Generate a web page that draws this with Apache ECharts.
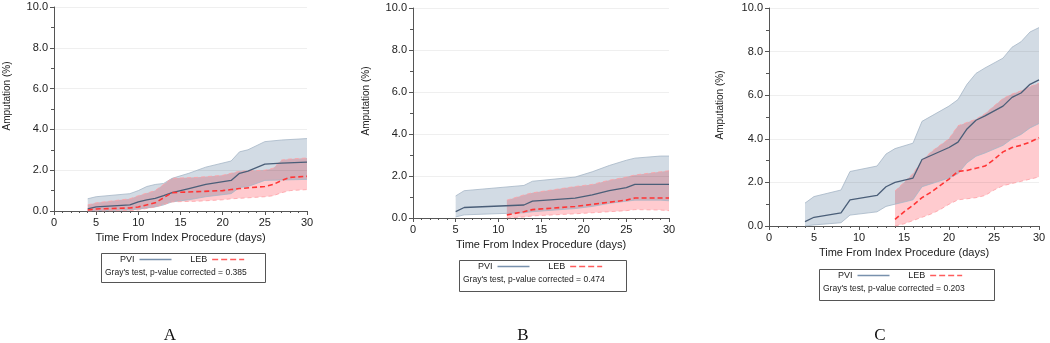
<!DOCTYPE html>
<html>
<head>
<meta charset="utf-8">
<script src="https://cdn.jsdelivr.net/npm/echarts@6/dist/echarts.min.js"></script>
<style>
  html, body { margin: 0; padding: 0; background: #fff; }
  #chart { width: 1050px; height: 343px; }
</style>
</head>
<body>
<div id="chart"></div>
<script>
// Panel A
const daysA_PVI = [4, 5, 9, 10, 11, 12, 13, 14, 16, 18, 21, 22, 23, 25, 27, 30]
const estA_PVI = [0.1, 0.2, 0.3, 0.45, 0.55, 0.62, 0.75, 0.9, 1.1, 1.3, 1.5, 1.85, 1.95, 2.3, 2.35, 2.4]
const hiA_PVI = [0.6, 0.7, 0.85, 1.0, 1.2, 1.3, 1.35, 1.6, 1.85, 2.15, 2.45, 2.9, 3.0, 3.4, 3.48, 3.55]
const loA_PVI = [0, 0.02, 0.05, 0.1, 0.15, 0.2, 0.3, 0.45, 0.55, 0.7, 0.85, 1.15, 1.2, 1.5, 1.52, 1.55]
const daysA_LEB = [4, 5, 9, 10, 12, 14, 17, 20, 21, 22, 25, 26, 27, 28, 30]
const estA_LEB = [0.05, 0.1, 0.15, 0.2, 0.4, 0.9, 0.95, 1.0, 1.05, 1.1, 1.2, 1.3, 1.5, 1.65, 1.7]
const hiA_LEB = [0.3, 0.4, 0.6, 0.75, 1.0, 1.6, 1.65, 1.75, 1.85, 1.95, 2.0, 2.1, 2.5, 2.55, 2.6]
const loA_LEB = [0, 0, 0.02, 0.05, 0.2, 0.45, 0.48, 0.55, 0.6, 0.62, 0.7, 0.75, 0.9, 1.0, 1.05]

// Panel B
const daysB_PVI = [5, 6, 13, 14, 19, 21, 23, 25, 26, 29, 30]
const estB_PVI = [0.3, 0.5, 0.62, 0.8, 0.95, 1.1, 1.3, 1.45, 1.6, 1.6, 1.6]
const hiB_PVI = [1.05, 1.3, 1.55, 1.75, 1.95, 2.2, 2.5, 2.75, 2.85, 2.95, 2.95]
const loB_PVI = [0.05, 0.15, 0.25, 0.3, 0.45, 0.55, 0.7, 0.8, 0.85, 0.85, 0.82]
const daysB_LEB = [11, 13, 14, 19, 21, 23, 25, 26, 29, 30]
const estB_LEB = [0.15, 0.3, 0.4, 0.55, 0.65, 0.75, 0.85, 0.95, 0.95, 0.95]
const hiB_LEB = [0.85, 1.1, 1.2, 1.5, 1.6, 1.8, 1.95, 2.05, 2.2, 2.25]
const loB_LEB = [0, 0.05, 0.1, 0.2, 0.25, 0.3, 0.35, 0.4, 0.38, 0.35]

// Panel C
const daysC_PVI = [4, 5, 8, 9, 12, 13, 14, 16, 17, 20, 21, 22, 23, 24, 26, 27, 28, 29, 30]
const estC_PVI = [0.2, 0.4, 0.6, 1.2, 1.4, 1.8, 2.0, 2.2, 3.05, 3.6, 3.85, 4.45, 4.85, 5.05, 5.5, 5.9, 6.1, 6.5, 6.7]
const hiC_PVI = [1.05, 1.35, 1.65, 2.5, 2.75, 3.3, 3.55, 3.8, 4.8, 5.5, 5.8, 6.5, 7.0, 7.25, 7.7, 8.2, 8.45, 8.9, 9.1]
const loC_PVI = [0, 0.05, 0.15, 0.5, 0.65, 0.9, 1.0, 1.2, 1.8, 2.2, 2.4, 2.9, 3.2, 3.35, 3.7, 4.0, 4.2, 4.5, 4.7]
const daysC_LEB = [14, 15, 16, 17, 18, 19, 20, 21, 22, 23, 24, 25, 26, 27, 28, 29, 30]
const estC_LEB = [0.3, 0.65, 0.95, 1.3, 1.55, 1.85, 2.15, 2.5, 2.55, 2.65, 2.75, 3.05, 3.4, 3.6, 3.7, 3.85, 4.05]
const hiC_LEB = [1.6, 2.0, 2.4, 3.0, 3.4, 3.7, 4.0, 4.6, 4.75, 4.9, 5.15, 5.5, 5.85, 6.05, 6.2, 6.4, 6.55]
const loC_LEB = [0, 0.1, 0.25, 0.4, 0.55, 0.75, 1.0, 1.2, 1.25, 1.3, 1.4, 1.65, 1.85, 1.95, 2.05, 2.15, 2.25]

const panelLetters = ['A', 'B', 'C']
const pValues = ['0.385', '0.474', '0.203']

const FONT = 'Liberation Sans'
const PVI_LINE = '#4a5e78'
const PVI_BAND = '#d2dbe4'
const PVI_EDGE = '#a6b6c6'
const LEB_LINE = '#ff3535'
const LEB_BAND = '#ffcbcf'
const LEB_EDGE = '#ffa0a4'

// grid geometry per panel (px)
const grids = [
  { left: 54, top: 7, width: 253, height: 204 },
  { left: 413, top: 8, width: 256, height: 210 },
  { left: 769, top: 8, width: 270, height: 218 }
]
// legend box per panel: [x, y, w, h]
const boxes = [[99, 251, 164, 29], [457, 258, 167, 31], [817, 267, 175, 31]]
const letterX = [170, 523, 880]

const pair = (days, vals) => days.map((d, i) => [d, vals[i]])

// confidence band drawn as one polygon through the axis scales
function band(name, gi, days, lo, hi, fill) {
  return {
    name: name,
    type: 'custom',
    xAxisIndex: gi,
    yAxisIndex: gi,
    silent: true,
    blendMode: 'multiply',
    z: 1,
    data: days.map((d, i) => [d, lo[i], hi[i]]),
    encode: { x: 0, y: [1, 2] },
    renderItem(params, api) {
      if (params.dataIndex !== 0) return null
      const pts = []
      days.forEach((d, i) => pts.push(api.coord([d, hi[i]])))
      for (let i = days.length - 1; i >= 0; i--) pts.push(api.coord([days[i], lo[i]]))
      return { type: 'polygon', shape: { points: pts }, style: { fill: fill } }
    }
  }
}

function edge(name, gi, days, vals, color, dashed) {
  return {
    name: name,
    type: 'line',
    xAxisIndex: gi,
    yAxisIndex: gi,
    silent: true,
    symbol: 'none',
    z: 2,
    lineStyle: { color: color, width: 0.8, type: dashed ? [4, 3] : 'solid' },
    data: pair(days, vals)
  }
}

function mainLine(name, gi, days, vals, color, dashed) {
  return {
    name: name,
    type: 'line',
    xAxisIndex: gi,
    yAxisIndex: gi,
    symbol: 'none',
    z: 3,
    itemStyle: { color: color },
    lineStyle: { color: color, width: dashed ? 1.6 : 1.3, type: dashed ? [5, 3] : 'solid' },
    data: pair(days, vals)
  }
}

const panels = [
  [daysA_PVI, estA_PVI, loA_PVI, hiA_PVI, daysA_LEB, estA_LEB, loA_LEB, hiA_LEB],
  [daysB_PVI, estB_PVI, loB_PVI, hiB_PVI, daysB_LEB, estB_LEB, loB_LEB, hiB_LEB],
  [daysC_PVI, estC_PVI, loC_PVI, hiC_PVI, daysC_LEB, estC_LEB, loC_LEB, hiC_LEB]
]

const series = []
panels.forEach((p, gi) => {
  const [dP, eP, lP, hP, dL, eL, lL, hL] = p
  series.push(band('bandLEB' + gi, gi, dL, lL, hL, LEB_BAND))
  series.push(band('bandPVI' + gi, gi, dP, lP, hP, PVI_BAND))
  series.push(edge('edgePVIhi' + gi, gi, dP, hP, PVI_EDGE, false))
  series.push(edge('edgePVIlo' + gi, gi, dP, lP, PVI_EDGE, false))
  series.push(edge('edgeLEBhi' + gi, gi, dL, hL, LEB_EDGE, true))
  series.push(edge('edgeLEBlo' + gi, gi, dL, lL, LEB_EDGE, true))
  series.push(mainLine('PVI', gi, dP, eP, PVI_LINE, false))
  series.push(mainLine('LEB', gi, dL, eL, LEB_LINE, true))
})

const axisColor = '#555'
const xAxes = grids.map((g, i) => ({
  type: 'value',
  gridIndex: i,
  min: 0,
  max: 30,
  interval: 5,
  name: 'Time From Index Procedure (days)',
  nameLocation: 'middle',
  nameGap: 19,
  nameTextStyle: { fontFamily: FONT, fontSize: 11, color: '#222' },
  axisLine: { lineStyle: { color: axisColor } },
  axisTick: { length: 4, lineStyle: { color: axisColor } },
  minorTick: { show: true, splitNumber: 5, length: 2, lineStyle: { color: axisColor } },
  axisLabel: { fontFamily: FONT, fontSize: 11, color: '#222', margin: 6 },
  splitLine: { show: false }
}))
const yAxes = grids.map((g, i) => ({
  type: 'value',
  gridIndex: i,
  min: 0,
  max: 10,
  interval: 2,
  name: 'Amputation (%)',
  nameLocation: 'middle',
  nameGap: i === 2 ? 44 : 42,
  nameTextStyle: { fontFamily: FONT, fontSize: 10, color: '#222', padding: [0, 0, 0, i === 0 ? 26 : 24] },
  axisLine: { show: true, lineStyle: { color: axisColor } },
  axisTick: { show: true, length: 4, lineStyle: { color: axisColor } },
  minorTick: { show: true, splitNumber: 2, length: 3, lineStyle: { color: axisColor } },
  axisLabel: { fontFamily: FONT, fontSize: 11, color: '#222', margin: 6, formatter: v => v.toFixed(1) },
  splitLine: { lineStyle: { color: '#efefef' } }
}))

const legends = boxes.map(b => ({
  data: [
    { name: 'PVI', lineStyle: { color: '#7891ad', width: 1.3 } },
    { name: 'LEB', lineStyle: { color: '#ff5c5c', width: 1.6, type: [6, 3] } }
  ],
  left: b[0] + 21,
  top: b[1] + 4,
  padding: 0,
  align: 'right',
  itemWidth: 32,
  itemHeight: 8,
  itemGap: 18,
  selectedMode: false,
  itemStyle: { opacity: 0 },
  textStyle: { fontFamily: FONT, fontSize: 9, color: '#222' }
}))

const graphics = []
boxes.forEach((b, i) => {
  graphics.push({
    type: 'rect',
    left: b[0],
    top: b[1],
    shape: { width: b[2], height: b[3] },
    style: { fill: 'none', stroke: '#555', lineWidth: 1 },
    silent: true
  })
  graphics.push({
    type: 'text',
    x: b[0] + 6,
    y: b[1] + 22,
    style: { text: "Gray's test, p-value corrected = " + pValues[i], font: '8.5px ' + FONT, fill: '#222', verticalAlign: 'middle' },
    silent: true
  })
  graphics.push({
    type: 'text',
    x: letterX[i],
    y: 336,
    style: { text: panelLetters[i], font: '17px "Liberation Serif"', fill: '#111', align: 'center', verticalAlign: 'middle' },
    silent: true
  })
})

const myChart = echarts.init(document.getElementById('chart'))
myChart.setOption({
  animation: false,
  backgroundColor: '#fff',
  grid: grids,
  xAxis: xAxes,
  yAxis: yAxes,
  legend: legends,
  graphic: graphics,
  series: series
})
</script>
</body>
</html>
